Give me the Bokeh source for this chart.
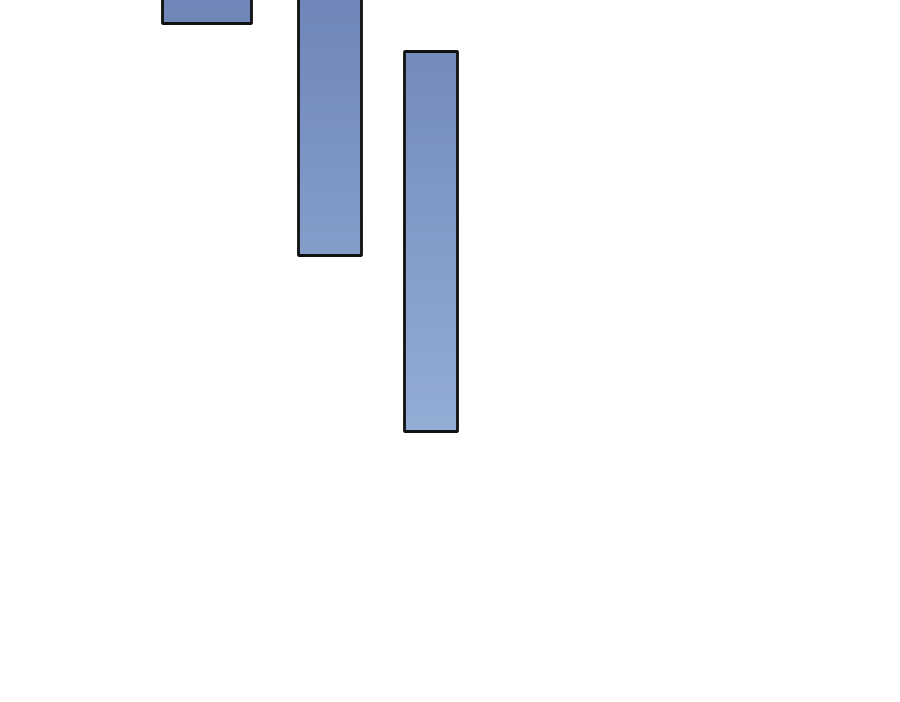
import numpy as np
from bokeh.plotting import figure
from bokeh.models import Range1d
from bokeh.embed import file_html
from bokeh.resources import INLINE

# data
bar_names = ["A", "B", "C"]
bar_low = [679, 447, 271]
bar_high = [730, 730, 651]

# layout constants
bar_center = [206.5, 329.5, 430.5]
bar_width = [89, 63, 53]

W, H = 900, 702
p = figure(width=W, height=H, output_backend="svg", toolbar_location=None,
           x_range=Range1d(-8, W - 8), y_range=Range1d(8, H + 8),
           min_border=0, min_border_left=0, min_border_right=0,
           min_border_top=0, min_border_bottom=0)
p.margin = (-8, 0, 0, -8)
p.axis.visible = False
p.grid.visible = False
p.outline_line_color = None
p.background_fill_color = "white"
p.border_fill_color = "white"

c_top = np.array([0x6f, 0x86, 0xb8], float)
c_bot = np.array([0x93, 0xad, 0xd5], float)
y_top, y_bot = 702.0, 271.0

def col(y):
    t = np.clip((y_top - y) / (y_top - y_bot), 0, 1)
    c = c_top + (c_bot - c_top) * t
    return "#%02x%02x%02x" % tuple(int(round(v)) for v in c)

N = 120
L, R, B, T, C = [], [], [], [], []
for cx, w, lo, hi in zip(bar_center, bar_width, bar_low, bar_high):
    edges = np.linspace(lo, hi, N + 1)
    for a, b in zip(edges[:-1], edges[1:]):
        L.append(cx - w / 2); R.append(cx + w / 2)
        B.append(a); T.append(min(b + 2.0, hi))
        C.append(col((a + b) / 2))
p.quad(left=L, right=R, bottom=B, top=T, fill_color=C, line_color=None)

p.quad(left=[c - w / 2 for c, w in zip(bar_center, bar_width)],
       right=[c + w / 2 for c, w in zip(bar_center, bar_width)],
       bottom=bar_low, top=bar_high, fill_color=None,
       line_color="#111111", line_width=2.8)

open("out.html", "w").write(file_html(p, INLINE))
